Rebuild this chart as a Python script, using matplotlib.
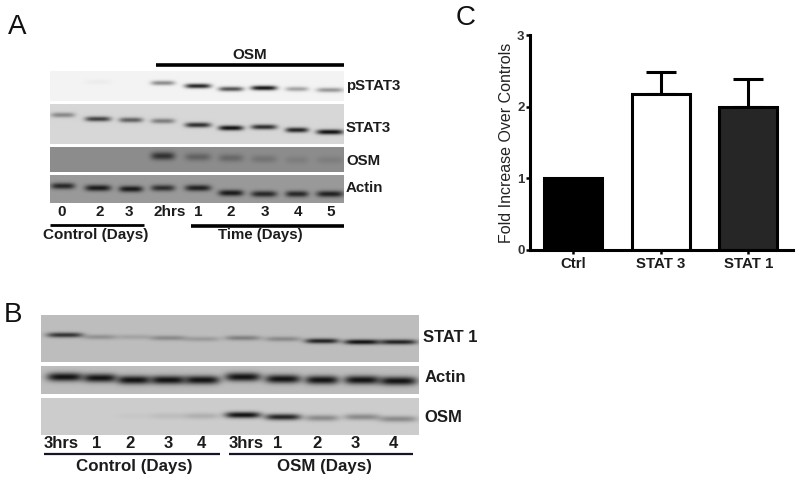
import numpy as np
import matplotlib
matplotlib.use('Agg')
import matplotlib.pyplot as plt

plt.rcParams['font.family'] = ['Liberation Sans', 'DejaVu Sans']
plt.rcParams['font.weight'] = 'bold'

#%%
# Bar chart values (panel C)
groups = ['Ctrl', 'STAT 3', 'STAT 1']
fold_means = [1.0, 2.18, 2.0]
fold_errs = [0.0, 0.31, 0.38]
y_ticks = [0, 1, 2, 3]

# Blot band darkness, read by eye (0 = nothing, 1 = full black)
a_lanes = ['0', '2', '3', '2hrs', '1', '2', '3', '4', '5']
a_pstat3 = [0.0, 0.03, 0.0, 0.45, 0.9, 0.7, 0.98, 0.35, 0.4]
a_stat3 = [0.4, 0.75, 0.6, 0.45, 0.85, 1.0, 0.85, 0.9, 1.0]
a_osm = [0.0, 0.0, 0.0, 0.75, 0.35, 0.3, 0.2, 0.12, 0.12]
a_actin = [0.85, 0.95, 0.95, 0.8, 0.9, 0.95, 0.85, 0.85, 0.9]

b_lanes = ['3hrs', '1', '2', '3', '4', '3hrs', '1', '2', '3', '4']
b_stat1 = [0.8, 0.25, 0.15, 0.3, 0.2, 0.35, 0.3, 0.9, 1.0, 0.9]
b_actin = [1.0, 1.0, 1.0, 1.0, 1.0, 1.0, 1.0, 1.0, 1.0, 1.0]
b_osm = [0.0, 0.0, 0.03, 0.08, 0.15, 1.0, 0.9, 0.35, 0.35, 0.35]

#%%
# Where things sit in the picture, in pixels
a_x = [63, 98, 131, 163, 198, 231, 264, 297, 330]
a_w = [24, 26, 24, 24, 26, 25, 26, 23, 27]
b_x = [65, 100, 134, 168, 202, 243, 283, 322, 362, 398]
b_w = [36, 34, 34, 36, 36, 36, 36, 34, 36, 38]


def blot(ax, box, xs, ws, ys, levels, bg, thick, ink=0.08):
    # paint one membrane strip as a greyscale image
    x0, x1, y0, y1 = box
    px, py = np.meshgrid(np.arange(x0, x1) + 0.5, np.arange(y0, y1) + 0.5)
    img = np.full(px.shape, float(bg))
    for x, w, y, lev in zip(xs, ws, ys, levels):
        band = np.exp(-((px - x) / (w / 2)) ** 4 - ((py - y) / thick) ** 2)
        img = img - band * lev * (img - ink)
    ax.imshow(img, cmap='gray', vmin=0, vmax=1, extent=(x0, x1, y1, y0),
              interpolation='bilinear', aspect='auto', zorder=1)


fig = plt.figure(figsize=(8, 4.83), dpi=100)
page = fig.add_axes([0, 0, 1, 1])
ink_col = '#1c1c1c'

#%%
# Panel A
blot(page, (50, 344, 71, 101), a_x, a_w, [82, 82, 82, 83, 86, 89, 88, 89, 90], a_pstat3, 0.95, 2.4)
blot(page, (50, 344, 104, 144), a_x, a_w, [115, 119, 120, 121, 125, 128, 127, 130, 132], a_stat3, 0.84, 2.6)
blot(page, (50, 344, 147, 172), a_x, a_w, [157, 158, 158, 156, 157, 158, 159, 160, 160], a_osm, 0.55, 4.0)
blot(page, (50, 344, 175, 203), a_x, a_w, [186, 188, 189, 188, 188, 193, 194, 194, 194], a_actin, 0.6, 3.2)

for lab, y in zip(['pSTAT3', 'STAT3', 'OSM', 'Actin'], [86, 128, 161, 188]):
    page.text(346, y, lab, fontsize=10.8, color=ink_col, va='center', ha='left', zorder=3)
for lab, x in zip(a_lanes, [62, 100, 129, 170, 198, 231, 265, 298, 331]):
    page.text(x, 212, lab, fontsize=11, color=ink_col, va='center', ha='center', zorder=3)

page.plot([156, 344], [65, 65], color='black', lw=2.6, solid_capstyle='butt', zorder=3)
page.plot([50, 144], [224.5, 224.5], color='black', lw=2.0, solid_capstyle='butt', zorder=3)
page.plot([191, 344], [226, 226], color='black', lw=2.6, solid_capstyle='butt', zorder=3)
page.text(250, 55, 'OSM', fontsize=11, color=ink_col, va='center', ha='center', zorder=3)
page.text(96, 235, 'Control (Days)', fontsize=11, color=ink_col, va='center', ha='center', zorder=3)
page.text(260, 235, 'Time (Days)', fontsize=10.8, color=ink_col, va='center', ha='center', zorder=3)

#%%
# Panel B
blot(page, (41, 419, 315, 362), b_x, b_w, [335, 337, 337, 338, 339, 338, 339, 341, 342, 342], b_stat1, 0.74, 2.6)
blot(page, (41, 419, 366, 394), b_x, b_w, [377, 378, 380, 380, 380, 377, 379, 380, 380, 381], b_actin, 0.74, 4.4)
blot(page, (41, 419, 398, 435), b_x, b_w, [416, 416, 416, 416, 416, 415, 417, 418, 417, 419], b_osm, 0.8, 3.2)

for lab, x, y in zip(['STAT 1', 'Actin', 'OSM'], [423, 425, 424], [338, 378, 418]):
    page.text(x, y, lab, fontsize=12, color=ink_col, va='center', ha='left', zorder=3)
for lab, x in zip(b_lanes, [61, 97, 130, 168, 201, 246, 278, 317, 355, 393]):
    page.text(x, 444, lab, fontsize=12, color=ink_col, va='center', ha='center', zorder=3)

page.plot([44, 220], [453.5, 453.5], color='#15152a', lw=1.6, solid_capstyle='butt', zorder=3)
page.plot([229, 413], [453.5, 453.5], color='#15152a', lw=1.6, solid_capstyle='butt', zorder=3)
page.text(134, 466, 'Control (Days)', fontsize=12.2, color=ink_col, va='center', ha='center', zorder=3)
page.text(324, 466, 'OSM (Days)', fontsize=12.2, color=ink_col, va='center', ha='center', zorder=3)

#%%
# Panel letters
for lab, x, y in [('A', 17, 27), ('B', 13, 315), ('C', 466, 18)]:
    page.text(x, y, lab, fontsize=20, fontweight='normal', color='#111111',
              va='center', ha='center', zorder=3)

page.set_xlim(0, 800)
page.set_ylim(483, 0)
page.axis('off')

#%%
# Panel C
ax = fig.add_axes([530 / 800, (483 - 250) / 483, 263 / 800, 215 / 483])
ax.patch.set_alpha(0)
ax.bar(range(3), fold_means, width=0.66, color=['black', 'white', '#262626'],
       edgecolor='black', linewidth=2.2, zorder=2)
ax.errorbar([1, 2], fold_means[1:], yerr=[[0, 0], fold_errs[1:]], fmt='none', ecolor='black',
            elinewidth=2.2, capsize=11, capthick=2.2, zorder=1)
ax.set_xlim(-0.49, 2.51)
ax.set_ylim(0, 3)
ax.set_yticks(y_ticks)
ax.set_xticks(range(3))
ax.set_xticklabels(groups, fontsize=10.8, color=ink_col)
ax.tick_params(axis='y', width=1.8, length=3, labelsize=9.5, pad=1, labelcolor='#333333')
ax.tick_params(axis='x', width=1.8, length=3, pad=2)
ax.set_ylabel('Fold Increase Over Controls', fontsize=11.5, color='#222222', labelpad=2)
ax.spines['top'].set_visible(False)
ax.spines['right'].set_visible(False)
ax.spines['left'].set_linewidth(2.2)
ax.spines['bottom'].set_linewidth(2.2)

plt.savefig('out.png', dpi=100)
